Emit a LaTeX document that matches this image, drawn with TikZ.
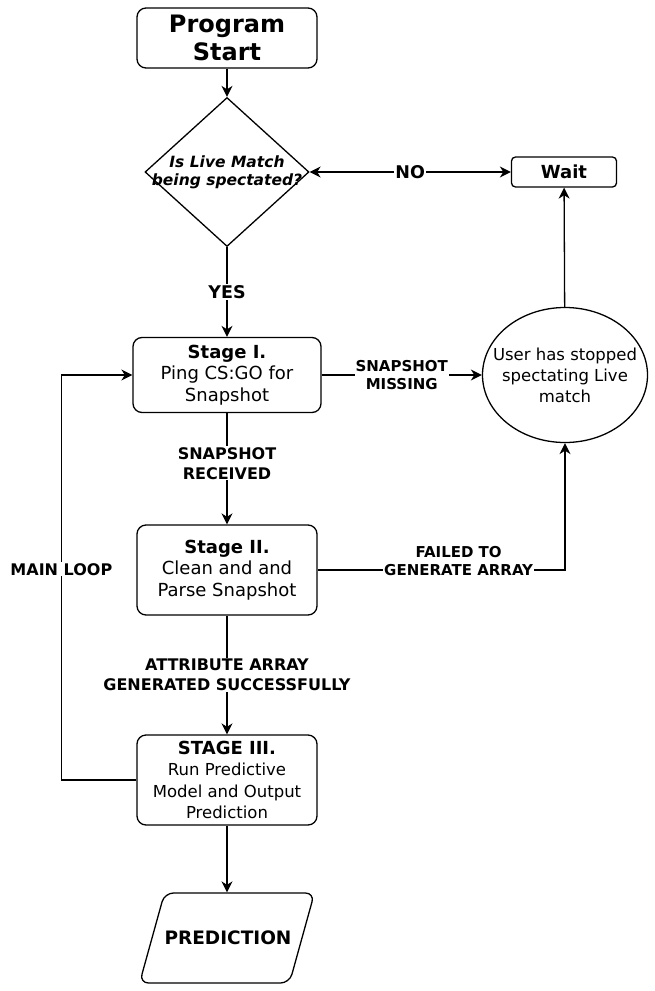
\documentclass[tikz,border=0pt]{standalone}
\usepackage{fontspec}
\setmainfont{DejaVu Sans}[ItalicFont={DejaVu Sans Oblique}, BoldItalicFont={DejaVu Sans Bold Oblique}]
\usetikzlibrary{shapes,arrows.meta,positioning,calc}

\begin{document}
\begin{tikzpicture}[
    x=1pt, y=1pt,
    node distance=200pt,
    box/.style={rectangle, draw, line width=1.3pt, rounded corners=9pt, minimum width=180pt, minimum height=90pt, inner sep=2pt, align=center, font=\fontsize{18}{21.7}\selectfont},
    decision/.style={diamond, draw, line width=1.3pt, minimum width=164pt, minimum height=149pt, inner sep=0pt},
    decisiontext/.style={align=center, inner sep=0pt, font=\fontsize{15.5}{18.3}\selectfont\bfseries\itshape},
    state/.style={ellipse, draw, line width=1.3pt, minimum width=165pt, minimum height=135pt, inner sep=0pt},
    statetext/.style={align=center, inner sep=0pt, font=\fontsize{16.5}{21}\selectfont},
    io/.style={trapezium, trapezium left angle=74.5, trapezium right angle=105.5, draw, line width=1.3pt, rounded corners=9pt, inner sep=0pt, text width=125pt, text height=51.5pt, text depth=38.5pt, align=center, font=\fontsize{18.5}{22}\selectfont\bfseries},
    arrow/.style={-{Stealth[length=11pt,width=11pt,inset=3.5pt]}, line width=1.3pt},
    lbl/.style={fill=white, inner sep=1pt, align=center, font=\fontsize{16}{20}\selectfont\bfseries}
]
    \useasboundingbox (0,0) rectangle (655,-991);

    \node[box, minimum height=60pt, font=\fontsize{24}{28}\selectfont\bfseries] (start) at (227,-38) {Program\\Start};
    \node[decision, below of=start, yshift=66pt, label={[decisiontext]center:Is Live Match\\being spectated?}] (live) {};
    \node[box, minimum width=105pt, minimum height=30pt, rounded corners=4pt, font=\fontsize{18}{21.7}\selectfont\bfseries, right of=live, xshift=137pt] (wait) {Wait};
    \node[box, minimum width=188pt, minimum height=75pt, below of=live, yshift=-3pt] (stage1) {\textbf{Stage I.}\\Ping CS:GO for\\Snapshot};
    \node[state, right of=stage1, xshift=138pt, label={[statetext]center:User has stopped\\spectating Live\\match}] (stopped) {};
    \node[box, below of=stage1, yshift=5pt] (stage2) {\textbf{Stage II.}\\Clean and and\\Parse Snapshot};
    \node[box, below of=stage2, yshift=-10pt, font=\fontsize{16.5}{21.4}\selectfont] (stage3) {{\fontsize{18}{21.4}\selectfont\bfseries STAGE III.}\\Run Predictive\\Model and Output\\Prediction};
    \node[io, below of=stage3, yshift=42pt] (prediction) {PREDICTION};

    \draw[arrow] (start) -- (live);
    \draw[arrow, {Stealth[length=11pt,width=11pt,inset=3.5pt]}-{Stealth[length=11pt,width=11pt,inset=3.5pt]}] (live.east) -- node[lbl, font=\fontsize{17.5}{20}\selectfont\bfseries] {NO} (wait.west |- live.east);
    \draw[arrow] (live) -- node[lbl, font=\fontsize{17.5}{20}\selectfont\bfseries] {YES} (stage1);
    \draw[arrow] (stage1) -- node[lbl, font=\fontsize{15}{18}\selectfont\bfseries] {SNAPSHOT\\MISSING} (stopped);
    \draw[arrow] (stopped) -- (wait);
    \draw[arrow] (stage1) -- node[lbl, pos=0.45] {SNAPSHOT\\RECEIVED} (stage2);
    \draw[arrow] (stage2.east) -| node[lbl, pos=0.285, yshift=9pt, font=\fontsize{15}{18}\selectfont\bfseries] {FAILED TO\\GENERATE ARRAY} (stopped.south);
    \draw[arrow] (stage2) -- node[lbl] {ATTRIBUTE ARRAY\\GENERATED SUCCESSFULLY} (stage3);
    \draw[arrow] (stage3.west) -- ++(-75pt,0) |- node[lbl, pos=0.26] {MAIN LOOP} (stage1.west);
    \draw[arrow] (stage3) -- (prediction);
\end{tikzpicture}
\end{document}
